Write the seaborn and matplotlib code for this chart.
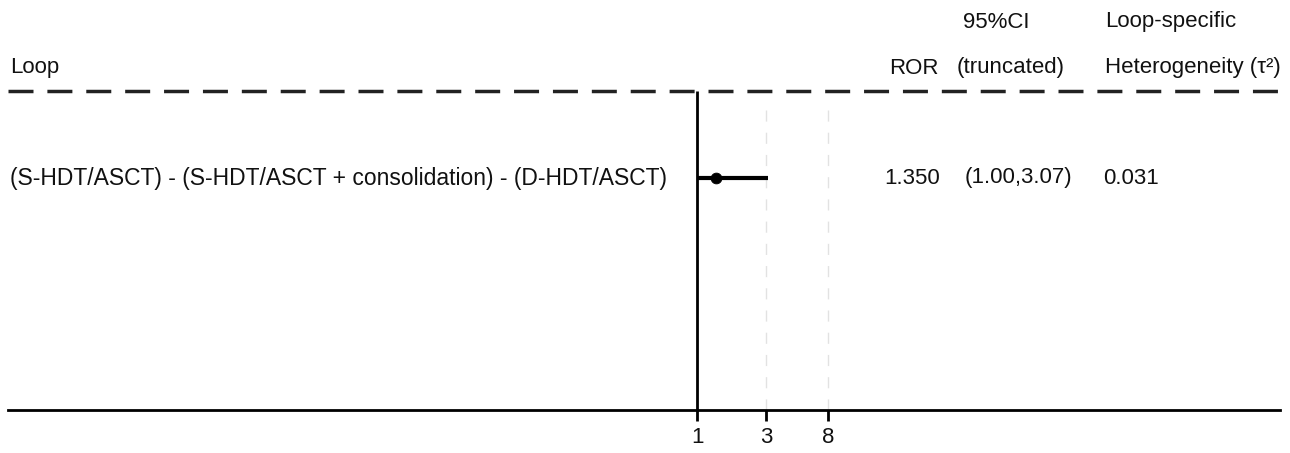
import numpy as np
import pandas as pd
import matplotlib
matplotlib.use('Agg')
import matplotlib.pyplot as plt
import seaborn as sns

# forest plot data (one loop)
loops = ['(S-HDT/ASCT) - (S-HDT/ASCT + consolidation) - (D-HDT/ASCT)']
ror = [1.350]
ci_low = [1.00]
ci_high = [3.07]
tau2 = [0.031]
xticks = [1, 3, 8]

sns.set_theme(style='white')
plt.rcParams['font.family'] = ['Liberation Sans', 'DejaVu Sans']

W, H = 1290, 453
fig = plt.figure(figsize=(W / 100, H / 100), dpi=100)

# axes: left 8px .. right 1280px, top of figure .. bottom line at 410px
ax = fig.add_axes([8 / W, (H - 410) / H, 1272 / W, 410 / H])
ax.set_xscale('log')
k = 63.0  # px per ln unit
ax.set_xlim(np.exp((8 - 697) / k), np.exp((1280 - 697) / k))
ax.set_ylim(410, 0)

row_y = [178]
df = pd.DataFrame({'loop': loops, 'ror': ror, 'lo': ci_low, 'hi': ci_high, 'y': row_y})

# reference lines
ax.axhline(91, color='#222222', lw=2.5, dashes=(7.2, 4))
ax.vlines(1, 91, 410, color='black', lw=2)
ax.vlines(xticks[1:], 110, 410, color='#e2e2e2', lw=1, linestyles=(0, (8, 8)))

# CI and point
ax.hlines(df['y'], df['lo'], df['hi'], color='black', lw=3)
sns.scatterplot(data=df, x='ror', y='y', color='black', s=60, ax=ax, zorder=5, edgecolor='black')

for s in ['top', 'left', 'right']:
    ax.spines[s].set_visible(False)
ax.spines['bottom'].set_color('black')
ax.spines['bottom'].set_linewidth(2)
ax.set_yticks([])
ax.set_xticks(xticks)
ax.set_xticklabels([str(t) for t in xticks])
ax.xaxis.set_minor_locator(matplotlib.ticker.NullLocator())
ax.tick_params(axis='x', direction='out', length=8, width=2, color='black',
               labelsize=16, pad=4, bottom=True, labelcolor='#111111')
ax.set_xlabel('')
ax.set_ylabel('')

def ft(px, py, s, ha='left', size=16):
    fig.text(px / W, 1 - py / H, s, ha=ha, va='center', fontsize=size, color='#111111')

# headers
ft(10, 68, 'Loop')
ft(939, 68, 'ROR', ha='right')
ft(996, 22, '95%CI', ha='center')
ft(1011, 68, '(truncated)', ha='center')
ft(1105, 22, 'Loop-specific')
ft(1105, 68, 'Heterogeneity (τ²)')

# row values
for i in range(len(loops)):
    y = row_y[i]
    ft(10, y, loops[i], size=16.5)
    ft(940, y, f'{ror[i]:.3f}', ha='right')
    ft(1018, y, f'({ci_low[i]:.2f},{ci_high[i]:.2f})', ha='center')
    ft(1103, y, f'{tau2[i]:.3f}')

fig.savefig('out.png', dpi=100)
